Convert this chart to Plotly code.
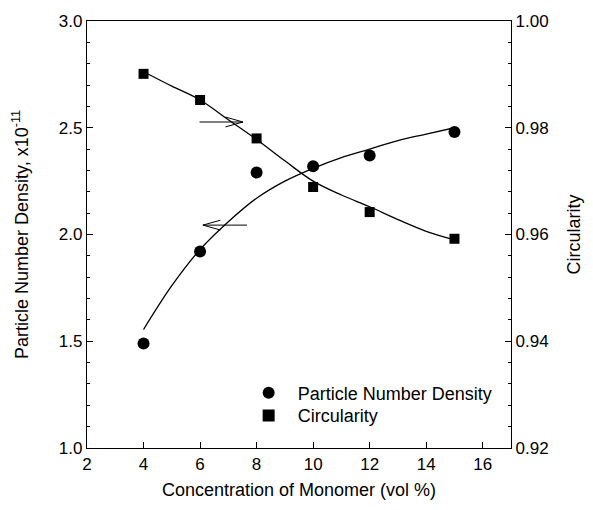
import plotly.graph_objects as go

# Measured data
conc = [4, 6, 8, 10, 12, 15]
pnd = [1.49, 1.92, 2.29, 2.32, 2.37, 2.48]
circ = [0.9901, 0.9852, 0.9780, 0.9689, 0.9642, 0.9592]

# Fitted curves
fit_x = [4, 5, 6, 7, 8, 9, 10, 11, 12, 13, 14, 15]
pnd_fit = [1.555, 1.76, 1.93, 2.06, 2.17, 2.25, 2.31, 2.36, 2.40, 2.44, 2.47, 2.50]
circ_fit = [0.9905, 0.9878, 0.9852, 0.9815, 0.9778, 0.9738, 0.9700, 0.9674, 0.9652, 0.9628, 0.9606, 0.9590]

FONT = "Liberation Sans, Arial, sans-serif"
TICK_SIZE = 17
TITLE_SIZE = 18

fig = go.Figure()
fig.add_trace(go.Scatter(x=fit_x, y=pnd_fit, mode="lines", line=dict(color="black", width=1.3, shape="spline"),
                         showlegend=False, hoverinfo="skip"))
fig.add_trace(go.Scatter(x=fit_x, y=circ_fit, mode="lines", line=dict(color="black", width=1.3, shape="spline"),
                         yaxis="y2", showlegend=False, hoverinfo="skip"))
fig.add_trace(go.Scatter(x=conc, y=pnd, mode="markers", name="Particle Number Density", legend="legend",
                         marker=dict(symbol="circle", size=12, color="black")))
fig.add_trace(go.Scatter(x=conc, y=circ, mode="markers", name="Circularity", yaxis="y2", legend="legend2",
                         marker=dict(symbol="square", size=10, color="black")))


def arrow_path(x_tail, x_tip, y, head_len, half_w):
    d = 1 if x_tip > x_tail else -1
    xb = x_tip - d * head_len
    return (f"M{x_tail},{y} L{x_tip},{y} "
            f"M{xb},{y + half_w} L{x_tip},{y} L{xb},{y - half_w}")


# arrows pointing to the relevant axis
HEAD_LEN = 0.62   # x units (~18 px)
HALF_W = 0.023    # left-axis units (~5 px)
fig.add_shape(type="path", xref="x", yref="y", path=arrow_path(5.98, 7.52, 2.527, HEAD_LEN, HALF_W),
              line=dict(color="black", width=1))
fig.add_shape(type="path", xref="x", yref="y", path=arrow_path(7.66, 6.10, 2.044, HEAD_LEN, HALF_W),
              line=dict(color="black", width=1))

axis_common = dict(showline=True, linecolor="black", linewidth=1.2, ticks="inside", tickcolor="black",
                   ticklen=6, tickwidth=1, showgrid=False, zeroline=False, automargin=False,
                   tickfont=dict(family=FONT, size=TICK_SIZE, color="black"))

legend_common = dict(xanchor="left", yanchor="top", bgcolor="rgba(0,0,0,0)",
                     font=dict(family=FONT, size=TITLE_SIZE), itemsizing="constant", itemwidth=48)

fig.update_layout(
    width=585, height=502,
    margin=dict(l=79, r=82, t=13, b=62),
    plot_bgcolor="white", paper_bgcolor="white",
    font=dict(family=FONT, size=TICK_SIZE, color="black"),
    xaxis=dict(range=[2, 17], tickvals=[2, 4, 6, 8, 10, 12, 14, 16], mirror=True,
               title=dict(text="Concentration of Monomer (vol %)", font=dict(family=FONT, size=TITLE_SIZE), standoff=10),
               **axis_common),
    yaxis=dict(range=[1.0, 3.0], dtick=0.5, tickformat=".1f",
               minor=dict(dtick=0.1, ticks="inside", ticklen=3, tickcolor="black"),
               title=dict(text="Particle Number Density, x10<sup>-11</sup>", font=dict(family=FONT, size=TITLE_SIZE), standoff=25),
               **axis_common),
    yaxis2=dict(range=[0.92, 1.00], dtick=0.02, tickformat=".2f", overlaying="y", side="right",
                minor=dict(dtick=0.004, ticks="inside", ticklen=3, tickcolor="black"),
                title=dict(text="Circularity", font=dict(family=FONT, size=TITLE_SIZE), standoff=19),
                **axis_common),
    legend=dict(x=0.36, y=0.172, **legend_common),
    legend2=dict(x=0.36, y=0.119, **legend_common),
)

fig.write_html("out.html")
